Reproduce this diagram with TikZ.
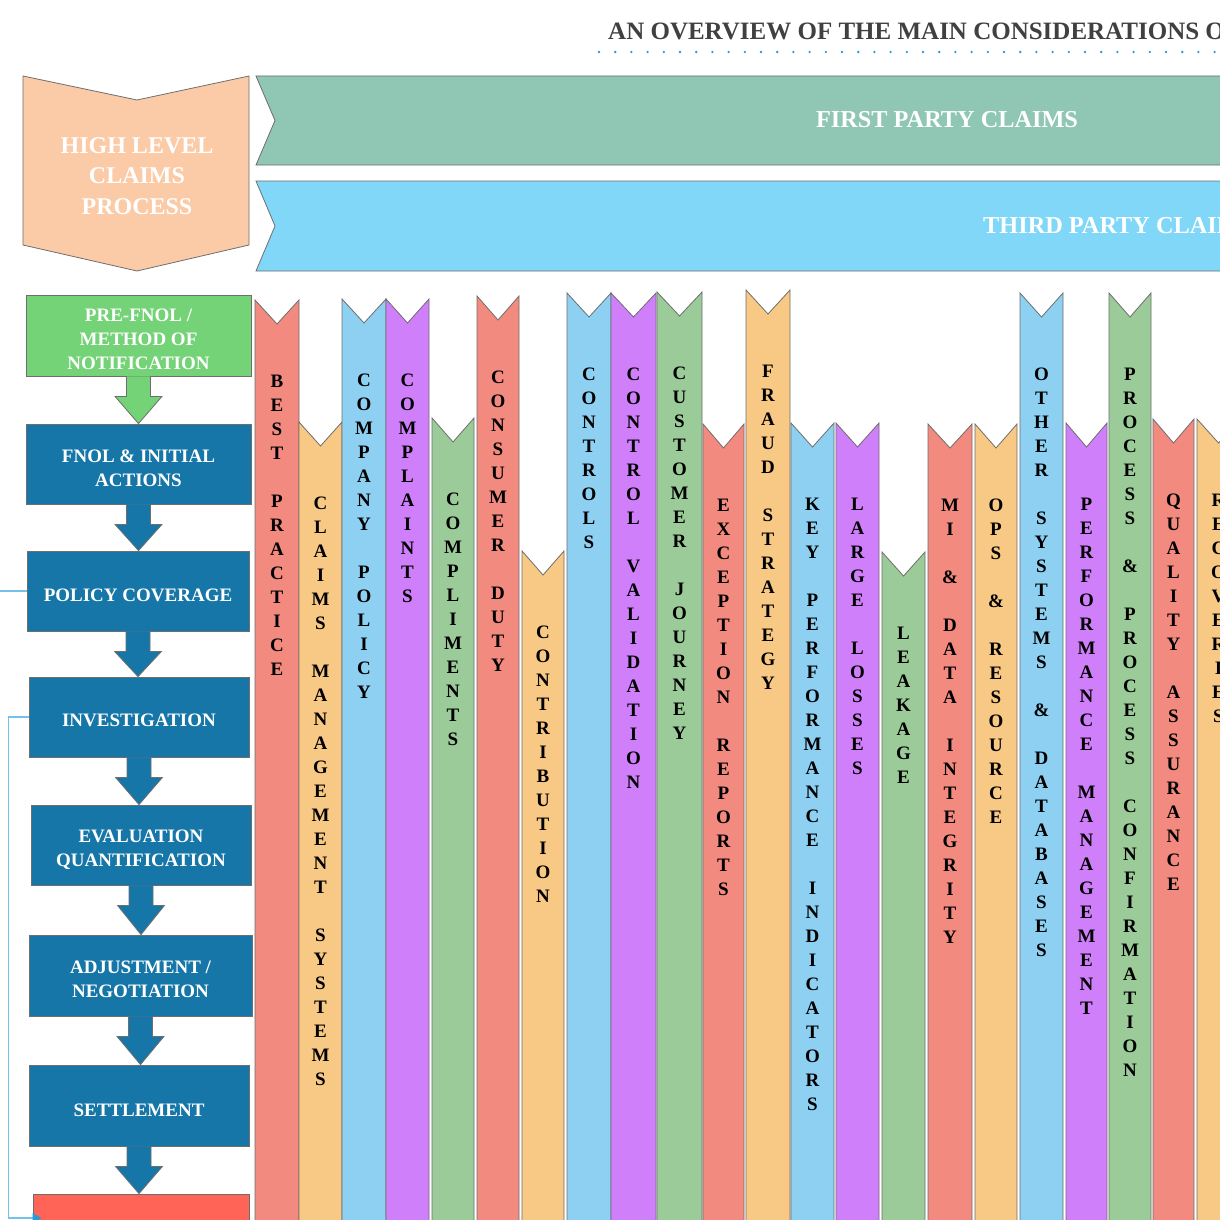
\documentclass[tikz,border=0pt]{standalone}
\usepackage{fontspec}
\setmainfont{Liberation Serif}
\usetikzlibrary{calc,arrows.meta}
\definecolor{tealb}{HTML}{8FC6B4}
\definecolor{skyb}{HTML}{80D7F8}
\definecolor{peach}{HTML}{FBCAA7}
\definecolor{procblue}{HTML}{1576A7}
\definecolor{pregreen}{HTML}{74D277}
\definecolor{redbox}{HTML}{FF6457}
\definecolor{rsalmon}{HTML}{F28A7F}
\definecolor{rorange}{HTML}{F7C985}
\definecolor{rblue}{HTML}{8DD0F2}
\definecolor{rpurple}{HTML}{D07FFB}
\definecolor{rgreen}{HTML}{9BCB98}
\definecolor{titlegray}{HTML}{404040}
\definecolor{dotblue}{HTML}{1E9CE0}
\definecolor{linkblue}{HTML}{74C2EC}
\definecolor{tipblue}{HTML}{2C9AD6}
\definecolor{edgegray}{HTML}{6E6E6E}
\ExplSyntaxOn
\NewDocumentCommand\vstack{m}{
  \vtop{
    \baselineskip=24pt \lineskiplimit=-100pt \lineskip=0pt
    \str_map_inline:nn {#1} {
      \str_if_eq:nnTF {##1} {~} {\hbox{}} {\hbox to 0pt{\hss ##1\hss}}
    }
  }
}
\ExplSyntaxOff
\tikzset{
  ribbonshape/.style={draw=edgegray, line width=0.8},
  rtext/.style={inner sep=0, anchor=base, font=\bfseries\fontsize{19}{24}\selectfont},
  procbox/.style={draw=edgegray, line width=0.8, fill=procblue, inner sep=0},
  proctext/.style={text=white, align=center, inner sep=0, font=\bfseries\fontsize{19}{24}\selectfont},
  bannertext/.style={text=white, inner sep=0, font=\bfseries\fontsize{24.3}{30}\selectfont},
  link/.style={draw=linkblue, line width=1.3},
}
\newcommand\ribbon[6]{%
  \path[ribbonshape, fill=#5] (#2,1240) -- (#2,#4) -- ({(#2+#3)/2},{#4+24}) -- (#3,#4) -- (#3,1240) -- cycle;
  \node[rtext] (#1) at ({(#2+#3)/2},{#4+81+6.3}) {\vstack{#6}};
}
\newcommand\barrow[3]{%
  \fill[#3] ($(#1.south)+(-12,0)$) -- ($(#1.south)+(-12,20)$) -- ($(#1.south)+(-23.5,20)$) -- (#1.south |- #2.north) -- ($(#1.south)+(23.5,20)$) -- ($(#1.south)+(12,20)$) -- ($(#1.south)+(12,0)$) -- cycle;
  \draw[edgegray, line width=0.8] ($(#1.south)+(-12,0)$) -- ($(#1.south)+(-12,20)$) -- ($(#1.south)+(-23.5,20)$) -- (#1.south |- #2.north) -- ($(#1.south)+(23.5,20)$) -- ($(#1.south)+(12,20)$) -- ($(#1.south)+(12,0)$);
}
\begin{document}
\begin{tikzpicture}[x=1pt, y=-1pt]
\useasboundingbox (0,0) rectangle (1220,1220);
\clip (0,0) rectangle (1220,1220);
\fill[white] (0,0) rectangle (1220,1220);

% title
\node[anchor=west, inner sep=0, text=titlegray, font=\bfseries\fontsize{25}{30}\selectfont] (title) at (608,31) {AN OVERVIEW OF THE MAIN CONSIDERATIONS OF};
\draw[dotblue, line width=2.6, line cap=round, dash pattern=on 0pt off 16.2pt] (599,52) -- (1230,52);

% high level chevron
\path[draw=edgegray, line width=0.8, fill=peach] (23,76) -- (137,100) -- (249,76) -- (249,245) -- (137,271) -- (23,245) -- cycle;
\node[bannertext, align=center, font=\bfseries\fontsize{24}{30.5}\selectfont] (hl) at (137,176) {HIGH LEVEL\\CLAIMS\\PROCESS};

% banners
\path[draw=edgegray, line width=0.8, fill=tealb] (256,76) -- (1240,76) -- (1240,165) -- (256,165) -- (275,120.5) -- cycle;
\node[bannertext] (first) at (947,120) {FIRST PARTY CLAIMS};
\path[draw=edgegray, line width=0.8, fill=skyb] (256,181) -- (1240,181) -- (1240,271) -- (256,271) -- (275,226) -- cycle;
\node[bannertext, anchor=west] (third) at (983,226) {THIRD PARTY CLAIMS};

% ribbons
\ribbon{bp}{255}{299}{300}{rsalmon}{BEST PRACTICE}
\ribbon{cms}{299}{342}{422}{rorange}{CLAIMS MANAGEMENT SYSTEMS}
\ribbon{cp}{342}{386}{299}{rblue}{COMPANY POLICY}
\ribbon{cpl}{386}{429}{299}{rpurple}{COMPLAINTS}
\ribbon{cmp}{432}{474}{418}{rgreen}{COMPLIMENTS}
\ribbon{cd}{477}{519}{296}{rsalmon}{CONSUMER DUTY}
\ribbon{ctb}{522}{564}{551}{rorange}{CONTRIBUTION}
\ribbon{ctl}{567}{611}{293}{rblue}{CONTROLS}
\ribbon{cv}{611}{656}{293}{rpurple}{CONTROL VALIDATION}
\ribbon{cj}{657}{702}{292}{rgreen}{CUSTOMER JOURNEY}
\ribbon{er}{703}{744}{424}{rsalmon}{EXCEPTION REPORTS}
\ribbon{fs}{746}{790}{290}{rorange}{FRAUD STRATEGY}
\ribbon{kpi}{791}{834}{423}{rblue}{KEY PERFORMANCE INDICATORS}
\ribbon{ll}{836}{879}{423}{rpurple}{LARGE LOSSES}
\ribbon{lk}{882}{925}{552}{rgreen}{LEAKAGE}
\ribbon{mi}{928}{972}{424}{rsalmon}{MI & DATA INTEGRITY}
\ribbon{ops}{975}{1017}{424}{rorange}{OPS & RESOURCE}
\ribbon{osd}{1020}{1063}{293}{rblue}{OTHER SYSTEMS & DATABASES}
\ribbon{pm}{1066}{1107}{423}{rpurple}{PERFORMANCE MANAGEMENT}
\ribbon{ppc}{1109}{1151}{293}{rgreen}{PROCESS & PROCESS CONFIRMATION}
\ribbon{qa}{1153}{1194}{419}{rsalmon}{QUALITY ASSURANCE}
\ribbon{rec}{1197}{1240}{419}{rorange}{RECOVERIES}

% process boxes
\node[procbox, fill=pregreen, minimum width=225, minimum height=81] (pre) at (138.5,335.5) {};
\node[procbox, minimum width=225, minimum height=80] (fnol) at (138.5,464) {};
\node[procbox, minimum width=222, minimum height=80] (pol) at (138,591) {};
\node[procbox, minimum width=220, minimum height=80] (inv) at (139,717) {};
\node[procbox, minimum width=220, minimum height=80] (eva) at (141,845) {};
\node[procbox, minimum width=223, minimum height=81] (adj) at (140.5,975.5) {};
\node[procbox, minimum width=220, minimum height=81] (set) at (139,1105.5) {};
\node[procbox, fill=redbox, minimum width=216, minimum height=48] (red) at (141,1218) {};

\node[proctext] (tpre) at ($(pre.center)+(0,4)$) {PRE-FNOL /\\METHOD OF\\NOTIFICATION};
\node[proctext] (tfnol) at ($(fnol.center)+(0,4)$) {FNOL \& INITIAL\\ACTIONS};
\node[proctext] (tpol) at ($(pol.center)+(0,4)$) {POLICY COVERAGE};
\node[proctext] (tinv) at ($(inv.center)+(0,3)$) {INVESTIGATION};
\node[proctext] (teva) at ($(eva.center)+(0,5)$) {EVALUATION\\QUANTIFICATION};
\node[proctext] (tadj) at ($(adj.center)+(0,4)$) {ADJUSTMENT /\\NEGOTIATION};
\node[proctext] (tset) at ($(set.center)+(0,4.5)$) {SETTLEMENT};

% block arrows
\barrow{pre}{fnol}{pregreen}
\barrow{fnol}{pol}{procblue}
\barrow{pol}{inv}{procblue}
\barrow{inv}{eva}{procblue}
\barrow{eva}{adj}{procblue}
\barrow{adj}{set}{procblue}
\barrow{set}{red}{procblue}

% left links
\coordinate (lin) at (0,591);
\draw[link] (lin) -- (pol.west);
\draw[link] (inv.west) -- ++(-20,0) |- ([xshift=1]red.west);
\fill[tipblue] ([xshift=0]red.west) ++(0,-5) -- ++(9,5) -- ++(-9,5) -- cycle;
\end{tikzpicture}
\end{document}
